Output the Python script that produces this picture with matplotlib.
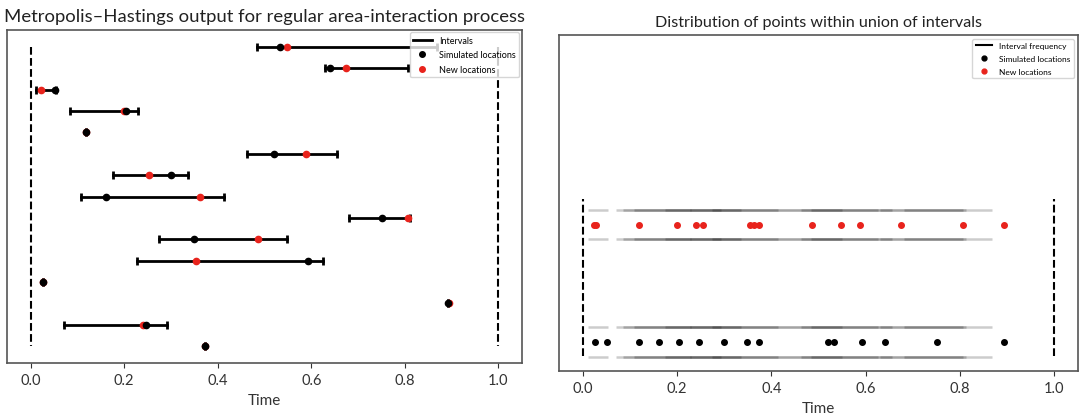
import numpy as np
import matplotlib
matplotlib.use('Agg')
import matplotlib.pyplot as plt
from matplotlib.lines import Line2D

plt.rcParams['font.family'] = ['Lato', 'DejaVu Sans']

# interval ends and locations per row (top row first)
left_ends = [0.483, 0.630, 0.011, 0.0845, 0.118, 0.4635, 0.175, 0.1076, 0.680, 0.274, 0.227, 0.0267, 0.893, 0.0708, 0.3726]
right_ends = [0.868, 0.806, 0.054, 0.229, 0.118, 0.655, 0.336, 0.413, 0.812, 0.549, 0.626, 0.0267, 0.893, 0.292, 0.3726]
simulated = [0.532, 0.640, 0.052, 0.204, 0.118, 0.520, 0.299, 0.162, 0.752, 0.349, 0.592, 0.0267, 0.893, 0.2455, 0.3726]
new_locs = [0.547, 0.674, 0.023, 0.200, 0.119, 0.588, 0.254, 0.362, 0.806, 0.485, 0.354, 0.0272, 0.894, 0.240, 0.3732]

rows = np.arange(len(left_ends))

fig = plt.figure(figsize=(10.82, 4.14), dpi=100)

# ---- left panel ----
ax1 = fig.add_axes([0.00675, 0.12, 0.4755, 0.8058])
for i in rows:
    ax1.plot([left_ends[i], right_ends[i]], [i, i], color='black', lw=2,
             marker='|', ms=6, mew=2)
ax1.plot(new_locs, rows, 'o', color='#e8231c', ms=4.5, zorder=2)
ax1.plot(simulated, rows, 'o', color='black', ms=4.5, zorder=3)
ax1.plot([0, 0], [0, rows[-1]], '--', color='black', lw=1.5)
ax1.plot([1, 1], [0, rows[-1]], '--', color='black', lw=1.5)
ax1.set_xlim(-0.05, 1.05)
ax1.set_ylim(-0.8, rows[-1] + 0.8)
ax1.invert_yaxis()
ax1.set_yticks([])
ax1.set_xticks([0, 0.2, 0.4, 0.6, 0.8, 1.0])
ax1.set_xlabel('Time', fontsize=11, color='#333333')
ax1.tick_params(labelsize=10.5, colors='#333333')
ax1.set_title('Metropolis\u2013Hastings output for regular area-interaction process',
              fontsize=13.3, color='#222222', pad=6)
h1 = [Line2D([], [], color='black', lw=2),
      Line2D([], [], marker='o', ls='', color='black', ms=4),
      Line2D([], [], marker='o', ls='', color='#e8231c', ms=4)]
ax1.legend(h1, ['Intervals', 'Simulated locations', 'New locations'],
           loc='upper right', fontsize=6.5, handlelength=2, borderaxespad=0.3,
           labelspacing=0.6)

# ---- right panel ----
ax2 = fig.add_axes([0.5169, 0.1007, 0.4794, 0.8131])
for y0 in [0, 1]:
    for off in [-0.125, 0.125]:
        for i in rows:
            if right_ends[i] > left_ends[i]:
                ax2.plot([left_ends[i], right_ends[i]], [y0 + off, y0 + off],
                         color='black', lw=1.8, alpha=0.2, solid_capstyle='butt')
ax2.plot(simulated, np.zeros(len(simulated)), 'o', color='black', ms=4)
ax2.plot(new_locs, np.ones(len(new_locs)), 'o', color='#e8231c', ms=4)
ax2.plot([0, 0], [-0.12, 1.22], '--', color='black', lw=1.5)
ax2.plot([1, 1], [-0.12, 1.22], '--', color='black', lw=1.5)
ax2.set_xlim(-0.05, 1.05)
ax2.set_ylim(-0.25, 2.62)
ax2.set_yticks([])
ax2.set_xticks([0, 0.2, 0.4, 0.6, 0.8, 1.0])
ax2.set_xlabel('Time', fontsize=11, color='#333333')
ax2.tick_params(labelsize=10.5, colors='#333333')
ax2.set_title('Distribution of points within union of intervals',
              fontsize=11.6, color='#222222', pad=6)
h2 = [Line2D([], [], color='black', lw=1.5),
      Line2D([], [], marker='o', ls='', color='black', ms=3.5),
      Line2D([], [], marker='o', ls='', color='#e8231c', ms=3.5)]
ax2.legend(h2, ['Interval frequency', 'Simulated locations', 'New locations'],
           loc='upper right', fontsize=6, handlelength=2, borderaxespad=0.5,
           labelspacing=0.7)

for ax in (ax1, ax2):
    for s in ax.spines.values():
        s.set_color('#555555')
        s.set_linewidth(1.2)

fig.savefig('out.png', dpi=100)
